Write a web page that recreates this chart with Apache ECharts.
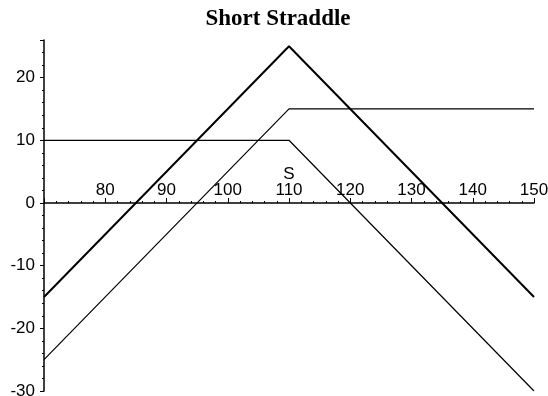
<!DOCTYPE html>
<html>
<head>
<meta charset="utf-8">
<script src="https://cdn.jsdelivr.net/npm/echarts@6/dist/echarts.min.js"></script>
<style>
html, body { margin: 0; padding: 0; background: #fff; }
#chart { width: 548px; height: 396px; }
</style>
</head>
<body>
<div id="chart"></div>
<script>
// 空头跨式 (short straddle), strike 110
var spot = [70, 110, 150];
var straddle = [-15, 25, -15];
var shortCall = [10, 10, -30];
var shortPut = [-25, 15, 15];
var xTicks = [80, 90, 100, 110, 120, 130, 140, 150];
var yTicks = [-30, -20, -10, 0, 10, 20];

function pairs(xs, ys) {
    return xs.map(function(x, i) { return [x, ys[i]]; });
}

var labelFont = '"Liberation Sans", Arial, sans-serif';

var chart = echarts.init(document.getElementById('chart'));
var option = {
    backgroundColor: '#fff',
    animation: false,
    title: {
        text: 'Short Straddle',
        left: 273,
        textAlign: 'center',
        top: 3,
        textStyle: {
            fontFamily: '"Liberation Serif", "Times New Roman", serif',
            fontWeight: 'bold',
            fontSize: 23,
            color: '#000'
        }
    },
    grid: {
        left: 44,
        top: 40,
        width: 490,
        height: 351,
        outerBoundsMode: 'none',
        containLabel: false
    },
    xAxis: {
        type: 'value',
        min: 70,
        max: 150,
        interval: 10,
        position: 'bottom',
        // 轴线放在 y=0 处 (grid 底边到 0 的像素距离)
        offset: -188,
        name: 'S',
        nameLocation: 'middle',
        nameGap: -29,
        nameMoveOverlap: false,
        nameTextStyle: {
            fontFamily: labelFont,
            fontSize: 17,
            color: '#000',
            verticalAlign: 'middle'
        },
        splitLine: { show: false },
        axisLine: {
            onZero: false,
            lineStyle: { color: '#000', width: 1.5 }
        },
        axisTick: {
            inside: true,
            length: 5,
            lineStyle: { color: '#000', width: 1 }
        },
        minorTick: {
            show: true,
            splitNumber: 5,
            length: 2,
            lineStyle: { color: '#000', width: 1 }
        },
        axisLabel: {
            inside: true,
            margin: 4,
            fontFamily: labelFont,
            fontSize: 17,
            color: '#000',
            formatter: function(v) {
                return xTicks.indexOf(v) >= 0 ? String(v) : '';
            }
        }
    },
    yAxis: {
        type: 'value',
        min: -30,
        max: 26,
        interval: 10,
        splitLine: { show: false },
        axisLine: {
            onZero: false,
            show: true,
            lineStyle: { color: '#000', width: 1.5 }
        },
        axisTick: {
            show: true,
            length: 4,
            interval: function(idx, v) {
                return yTicks.indexOf(Number(v)) >= 0;
            },
            lineStyle: { color: '#000', width: 1 }
        },
        minorTick: {
            show: true,
            splitNumber: 5,
            length: 2,
            lineStyle: { color: '#000', width: 1 }
        },
        axisLabel: {
            margin: 9,
            fontFamily: labelFont,
            fontSize: 17,
            color: '#000',
            formatter: function(v) {
                return yTicks.indexOf(v) >= 0 ? String(v) : '';
            }
        }
    },
    series: [{
        type: 'line',
        data: pairs(spot, straddle),
        symbol: 'none',
        lineStyle: { color: '#000', width: 2 }
    }, {
        type: 'line',
        data: pairs(spot, shortCall),
        symbol: 'none',
        lineStyle: { color: '#000', width: 1.2 }
    }, {
        type: 'line',
        data: pairs(spot, shortPut),
        symbol: 'none',
        lineStyle: { color: '#000', width: 1.2 }
    }]
};
chart.setOption(option);
</script>
</body>
</html>
